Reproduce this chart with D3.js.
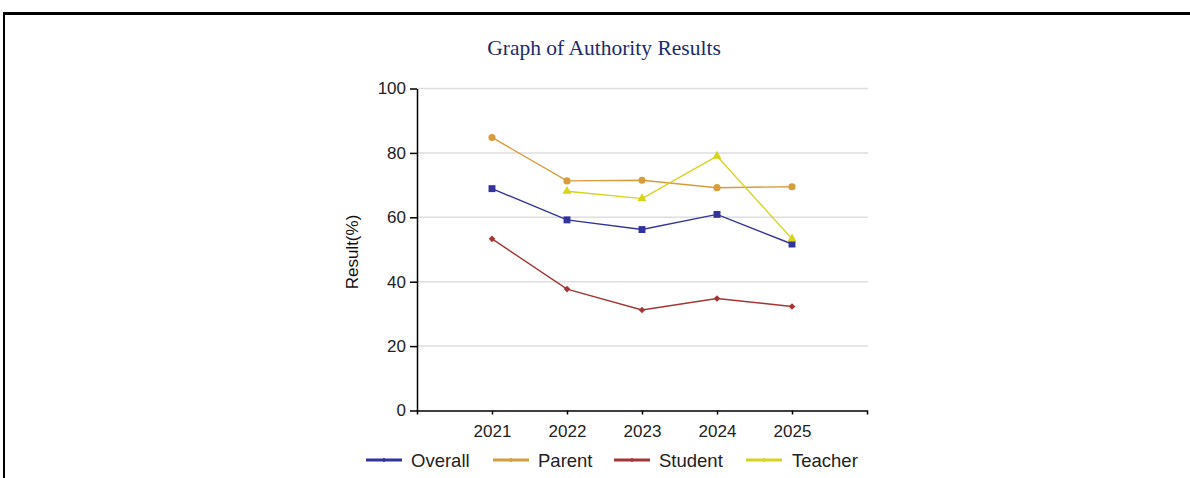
<!DOCTYPE html>
<html>
<head>
<meta charset="utf-8">
<script src="https://cdn.jsdelivr.net/npm/d3@7"></script>
<style>
  body { margin: 0; background: #fff; }
  svg { display: block; }
</style>
</head>
<body>
<svg id="chart"></svg>
<script>
// chart data
var years = ["2021", "2022", "2023", "2024", "2025"];
var overallResults = [68.9, 59.2, 56.2, 60.9, 51.7];
var parentResults = [84.8, 71.3, 71.5, 69.2, 69.5];
var studentResults = [53.3, 37.7, 31.2, 34.8, 32.3];
var teacherResults = [null, 68.1, 65.8, 79.0, 53.3];
var seriesNames = ["Overall", "Parent", "Student", "Teacher"];
var yTicks = [0, 20, 40, 60, 80, 100];

var colors = ["#33339c", "#d79d3c", "#a33636", "#d6d41c"];
// student marker is a square turned 45deg (diamond)
var shapes = [d3.symbolSquare, d3.symbolCircle, d3.symbolSquare, d3.symbolTriangle];
var sizes = [48, 40, 22, 36];
var rot = [0, 0, 45, 0];

var width = 1190, height = 478;
var svg = d3.select("#chart").attr("width", width).attr("height", height);

// outer frame (top + left edges of the page box)
svg.append("rect").attr("x", 3).attr("y", 12).attr("width", width).attr("height", 3).attr("fill", "#000");
svg.append("rect").attr("x", 3).attr("y", 12).attr("width", 2).attr("height", height).attr("fill", "#000");

svg.append("text")
    .attr("x", 604).attr("y", 55)
    .attr("text-anchor", "middle")
    .style("font-family", "'Liberation Serif', 'Times New Roman', serif")
    .style("font-size", "21.5px")
    .attr("fill", "#1b2b6b")
    .text("Graph of Authority Results");

var plotL = 417, plotR = 867, plotT = 88.5, plotB = 410.5;

var x = d3.scalePoint().domain(years).range([plotL, plotR]).padding(1);
var y = d3.scaleLinear().domain([0, 100]).range([plotB, plotT]);

// gridlines
svg.append("g").selectAll("line")
    .data(yTicks.filter(function(d){ return d > 0; }))
    .enter().append("line")
    .attr("x1", plotL).attr("x2", plotR + 1)
    .attr("y1", function(d){ return y(d); })
    .attr("y2", function(d){ return y(d); })
    .attr("stroke", "#dedede")
    .attr("stroke-width", 1.5);

var yAxis = svg.append("g")
    .attr("transform", "translate(" + plotL + ",0)")
    .call(d3.axisLeft(y).tickValues(yTicks).tickSize(7).tickSizeOuter(0).tickPadding(4));

var xAxis = svg.append("g")
    .attr("transform", "translate(0," + plotB + ")")
    .call(d3.axisBottom(x).tickSize(4).tickSizeOuter(4).tickPadding(10));

[yAxis, xAxis].forEach(function(g){
    g.selectAll("path, line").attr("stroke", "#000").attr("stroke-width", 1.5);
    g.selectAll("text")
        .style("font-family", "'Liberation Sans', Arial, sans-serif")
        .style("font-size", "17px")
        .attr("fill", "#222");
});

svg.append("text")
    .attr("transform", "translate(358,252) rotate(-90)")
    .attr("text-anchor", "middle")
    .style("font-family", "'Liberation Sans', Arial, sans-serif")
    .style("font-size", "17px")
    .attr("fill", "#111")
    .text("Result(%)");

var allSeries = [overallResults, parentResults, studentResults, teacherResults];

var line = d3.line()
    .defined(function(d){ return d != null; })
    .x(function(d, i){ return x(years[i]); })
    .y(function(d){ return y(d); });

allSeries.forEach(function(vals, k){
    var g = svg.append("g");
    g.append("path")
        .attr("d", line(vals))
        .attr("fill", "none")
        .attr("stroke", colors[k])
        .attr("stroke-width", 1.4);
    g.selectAll("path.mk")
        .data(vals.map(function(v, i){ return {v: v, i: i}; }).filter(function(d){ return d.v != null; }))
        .enter().append("path")
        .attr("class", "mk")
        .attr("d", d3.symbol().type(shapes[k]).size(sizes[k]))
        .attr("transform", function(d){ return "translate(" + x(years[d.i]) + "," + y(d.v) + ") rotate(" + rot[k] + ")"; })
        .attr("fill", colors[k]);
});

// legend
var legendX = [366, 493, 614, 746];
var leg = svg.append("g").selectAll("g")
    .data(seriesNames)
    .enter().append("g")
    .attr("transform", function(d, i){ return "translate(" + legendX[i] + ",460)"; });
leg.append("line")
    .attr("x1", 0).attr("x2", 36).attr("y1", 0).attr("y2", 0)
    .attr("stroke", function(d, i){ return colors[i]; })
    .attr("stroke-width", 3);
leg.append("path")
    .attr("d", d3.symbol().type(d3.symbolSquare).size(10))
    .attr("transform", "translate(18,0) rotate(45)")
    .attr("fill", function(d, i){ return colors[i]; });
leg.append("text")
    .attr("x", function(d, i){ return i == 3 ? 46 : 45; })
    .attr("y", 6.5)
    .style("font-family", "'Liberation Sans', Arial, sans-serif")
    .style("font-size", "18.5px")
    .attr("fill", "#222")
    .text(function(d){ return d; });
</script>
</body>
</html>
